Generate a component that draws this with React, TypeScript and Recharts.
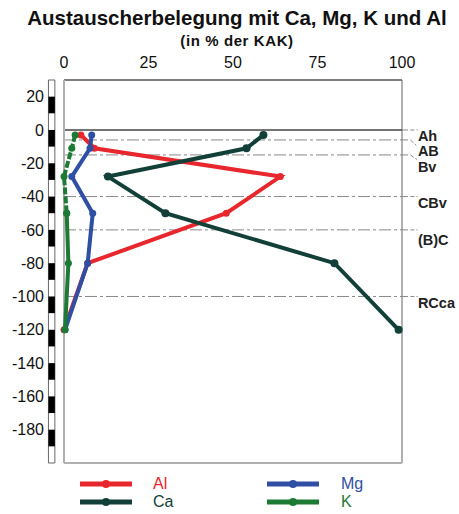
import { ScatterChart, Scatter, XAxis, YAxis, ReferenceLine, ReferenceArea, ReferenceDot, Legend } from "recharts";

// depth in cm, values in % of KAK
const depths = [-3, -11, -28, -50, -80, -120];
const alValues = [5, 9, 64, 48, 7, 0];
const caValues = [59, 54, 13, 30, 80, 99];
const mgValues = [8.2, 7.7, 2.3, 8.5, 7, 0.3];
const kValues = [3.3, 2.3, 0, 0.8, 1.3, 0.3];

const topTicks = [0, 25, 50, 75, 100];
const minorTicks = [0, 5, 10, 15, 20, 25, 30, 35, 40, 45, 50, 55, 60, 65, 70, 75, 80, 85, 90, 95, 100];
const depthTicks = [20, 0, -20, -40, -60, -80, -100, -120, -140, -160, -180];
const scaleBlocks = [20, 0, -20, -40, -60, -80, -100, -120, -140, -160, -180];

const horizonNames = ["Ah", "AB", "Bv", "CBv", "(B)C", "RCca"];
const horizonDepths = [0, -6, -15, -40, -60, -100];
const leaderEnds = [0, -10, -18, -40, -60, -100];
const labelDepths = [-3.5, -12.5, -22, -44, -66, -104];

const colors: Record<string, string> = { Al: "#e8262d", Ca: "#123f38", Mg: "#2e4fa3", K: "#1d7a34" };
const legendNames = ["Al", "Ca", "Mg", "K"];

const font = "'Liberation Sans', Arial, Helvetica, sans-serif";

const toPoints = (vals: number[]) => depths.map((d, i) => ({ d, v: vals[i] }));
const alData = toPoints(alValues);
const caData = toPoints(caValues);
const mgData = toPoints(mgValues);
const kData = toPoints(kValues);
const kDashed = kData.slice(0, 4);
const kSolid = kData.slice(3);

const dot = (color: string, r = 3.5) => (p: any) => <circle cx={p.cx} cy={p.cy} r={r} fill={color} />;

function LegendBox() {
  return (
    <div style={{ position: "relative", width: 459, height: 51, fontFamily: font }}>
      {legendNames.map((name, i) => {
        const col = Math.floor(i / 2);
        const row = i % 2;
        const lineX = col === 0 ? 80 : 267;
        const textX = col === 0 ? 153 : 341;
        const cy = row === 0 ? 21 : 39;
        return (
          <div key={name}>
            <svg style={{ position: "absolute", left: lineX, top: cy - 5 }} width={52} height={10}>
              <line x1={0} x2={52} y1={5} y2={5} stroke={colors[name]} strokeWidth={5} />
              <circle cx={26} cy={5} r={4} fill={colors[name]} />
            </svg>
            <span style={{ position: "absolute", left: textX, top: cy - 10, fontSize: 16, lineHeight: "20px", color: colors[name] }}>
              {name}
            </span>
          </div>
        );
      })}
    </div>
  );
}

export default function App() {
  return (
    <div style={{ position: "absolute", left: 0, top: 0 }}>
      <ScatterChart width={459} height={514} margin={{ top: 50, right: 57, bottom: 0, left: 0 }}>
        <text x={237} y={25} textAnchor="middle" fontFamily={font} fontSize={20.5} fontWeight="bold" fill="#111">
          Austauscherbelegung mit Ca, Mg, K und Al
        </text>
        <text x={237} y={46} textAnchor="middle" fontFamily={font} fontSize={15} fontWeight="bold" fill="#111" letterSpacing={0.6}>
          (in % der KAK)
        </text>
        <XAxis
          type="number"
          dataKey="v"
          orientation="top"
          domain={[0, 100]}
          ticks={topTicks}
          height={30}
          tickLine={false}
          tickMargin={6}
          axisLine={{ stroke: "#555", strokeWidth: 1.5 }}
          tick={{ fontSize: 16, fill: "#111", fontFamily: font }}
        />
        <XAxis
          xAxisId="minor"
          type="number"
          orientation="top"
          mirror
          domain={[0, 100]}
          ticks={minorTicks}
          tickSize={3}
          axisLine={false}
          tickLine={{ stroke: "#555" }}
          tick={() => <g />}
        />
        <YAxis
          type="number"
          dataKey="d"
          domain={[-200, 30]}
          ticks={depthTicks}
          width={64}
          tickLine={false}
          tickMargin={14}
          axisLine={{ stroke: "#b0b0b0", strokeWidth: 2 }}
          tick={{ fontSize: 16, fill: "#111", fontFamily: font }}
        />
        <ReferenceLine x={100} stroke="#b0b0b0" strokeWidth={2} />
        <ReferenceLine y={-200} stroke="#b0b0b0" strokeWidth={2} />

        <ReferenceArea x1={-4.6} x2={-2.7} y1={-200} y2={30} ifOverflow="visible" fill="#fff" fillOpacity={1} stroke="#666" strokeWidth={1} />
        {scaleBlocks.map((top) => (
          <ReferenceArea key={top} x1={-4.6} x2={-2.7} y1={top - 10} y2={top} ifOverflow="visible" fill="#000" fillOpacity={1} />
        ))}

        {horizonDepths.map((d, i) =>
          i === 0 ? (
            <ReferenceLine key={"h" + i} y={0} stroke="#444" strokeWidth={1.5} />
          ) : (
            <ReferenceLine key={"h" + i} y={d} stroke="#888" strokeWidth={1} strokeDasharray="12 3 3 3" />
          )
        )}
        {horizonDepths.map((d, i) => (
          <ReferenceLine
            key={"l" + i}
            segment={[{ x: 100, y: d }, { x: 102.5, y: d }]}
            ifOverflow="visible"
            stroke="#888"
            strokeWidth={1}
            strokeDasharray="6 3 2 3"
          />
        ))}
        {horizonDepths.map((d, i) => (
          <ReferenceLine
            key={"m" + i}
            segment={[{ x: 102.5, y: d }, { x: 104.6, y: leaderEnds[i] }]}
            ifOverflow="visible"
            stroke="#888"
            strokeWidth={1}
            strokeDasharray="4 2 2 2"
          />
        ))}
        {horizonNames.map((name, i) => (
          <ReferenceDot
            key={name}
            x={104.7}
            y={labelDepths[i]}
            r={0}
            ifOverflow="visible"
            shape={(p: any) => (
              <text x={p.cx} y={p.cy} dominantBaseline="central" fontFamily={font} fontSize={14.5} fontWeight="bold" fill="#222">
                {name}
              </text>
            )}
          />
        ))}

        <Scatter name="Al" data={alData} fill={colors.Al} line={{ stroke: colors.Al, strokeWidth: 4 }} lineType="joint" shape={dot(colors.Al)} isAnimationActive={false} />
        <Scatter name="Ca" data={caData} fill={colors.Ca} line={{ stroke: colors.Ca, strokeWidth: 4 }} lineType="joint" shape={dot(colors.Ca, 4)} isAnimationActive={false} />
        <Scatter name="Mg" data={mgData} fill={colors.Mg} line={{ stroke: colors.Mg, strokeWidth: 4 }} lineType="joint" shape={dot(colors.Mg)} isAnimationActive={false} />
        <Scatter name="K" data={kDashed} fill={colors.K} line={{ stroke: colors.K, strokeWidth: 4, strokeDasharray: "7 2" }} lineType="joint" shape={dot(colors.K)} isAnimationActive={false} />
        <Scatter name="K2" data={kSolid} fill={colors.K} line={{ stroke: colors.K, strokeWidth: 4 }} lineType="joint" shape={dot(colors.K)} isAnimationActive={false} />

        <Legend verticalAlign="bottom" wrapperStyle={{ left: 0, bottom: 0, width: 459, height: 51 }} content={() => <LegendBox />} />
      </ScatterChart>
    </div>
  );
}
